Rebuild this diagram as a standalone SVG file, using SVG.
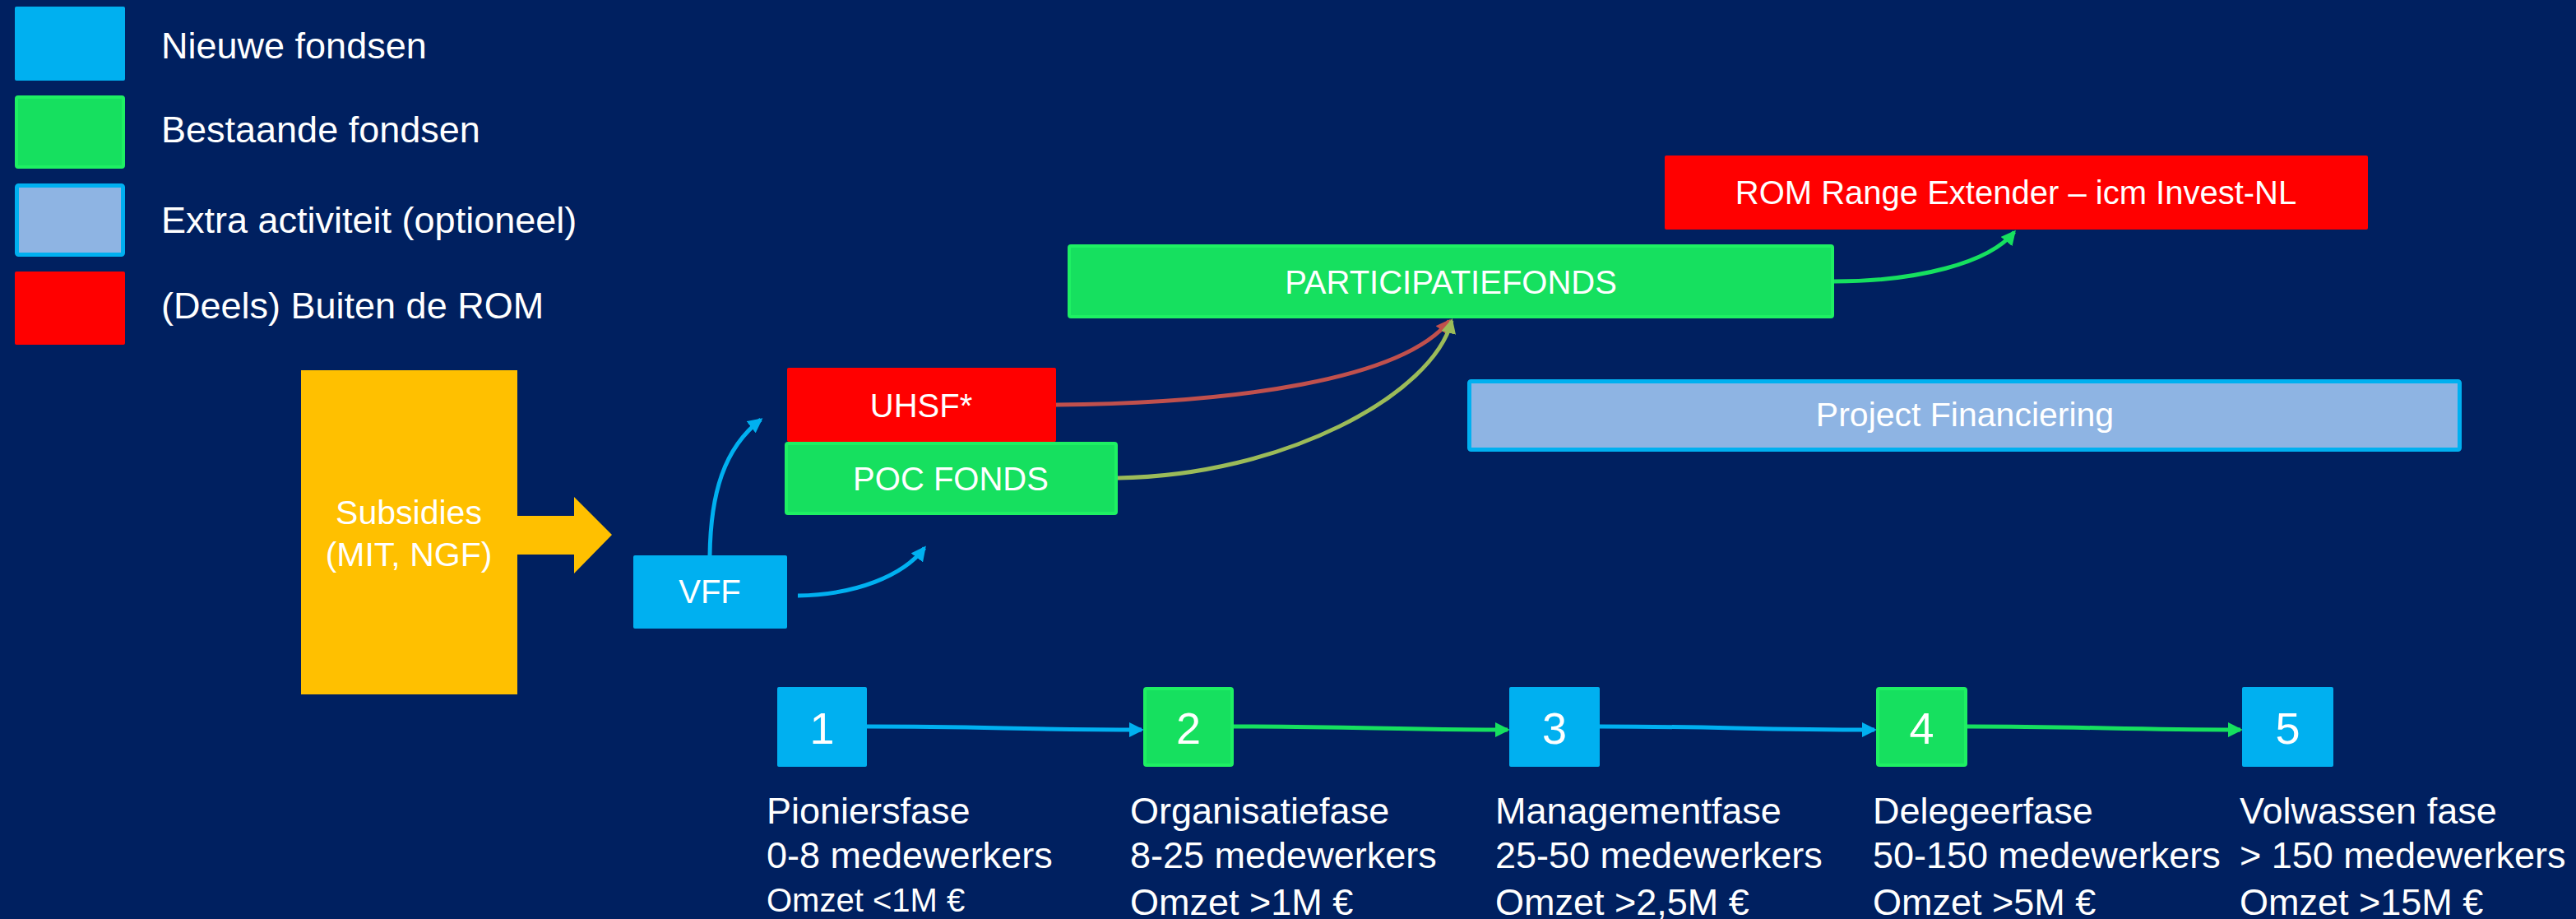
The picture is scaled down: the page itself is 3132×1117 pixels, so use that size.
<svg xmlns="http://www.w3.org/2000/svg" width="3132" height="1117" viewBox="0 0 3132 1117">
<style>
text{font-family:"Liberation Sans",Arial,sans-serif;fill:#FFFFFF;}
.lg{font-size:45px;}
.bl{font-size:40px;text-anchor:middle;}
.num{font-size:54px;text-anchor:middle;}
.st{font-size:45px;}
.blue{fill:#00B0F0;}
.green{fill:#16E05F;stroke:#1EF063;stroke-width:4;}
.red{fill:#FF0000;}
.lb{fill:#8EB4E3;stroke:#00B0F0;stroke-width:5;}
.c{fill:none;stroke-width:5;}
</style>
<defs>
<marker id="mBlue" viewBox="0 0 18 18" markerWidth="18" markerHeight="18" markerUnits="userSpaceOnUse" refX="15" refY="9" orient="auto"><path d="M0,0 L18,9 L0,18 z" fill="#00B0F0"/></marker>
<marker id="mGreen" viewBox="0 0 18 18" markerWidth="18" markerHeight="18" markerUnits="userSpaceOnUse" refX="15" refY="9" orient="auto"><path d="M0,0 L18,9 L0,18 z" fill="#16E05F"/></marker>
<marker id="mRed" viewBox="0 0 18 18" markerWidth="18" markerHeight="18" markerUnits="userSpaceOnUse" refX="15" refY="9" orient="auto"><path d="M0,0 L18,9 L0,18 z" fill="#C0504D"/></marker>
<marker id="mOlive" viewBox="0 0 18 18" markerWidth="18" markerHeight="18" markerUnits="userSpaceOnUse" refX="15" refY="9" orient="auto"><path d="M0,0 L18,9 L0,18 z" fill="#9BBB59"/></marker>
</defs>
<rect width="3132" height="1117" fill="#002060"/>

<g id="legend">
<rect x="18" y="8" width="134" height="90" rx="2" class="blue"/>
<text x="196" y="71" class="lg">Nieuwe fondsen</text>
<rect x="20" y="118" width="130" height="85" rx="2" class="green"/>
<text x="196" y="173" class="lg">Bestaande fondsen</text>
<rect x="20.5" y="225.5" width="129" height="84" rx="2" class="lb"/>
<text x="196" y="283" class="lg">Extra activiteit (optioneel)</text>
<rect x="18" y="330" width="134" height="89" rx="2" class="red"/>
<text x="196" y="387" class="lg">(Deels) Buiten de ROM</text>
</g>

<g id="connectors">
<path class="c" stroke="#00B0F0" marker-end="url(#mBlue)" d="M863,675 C864,600 880,545 925,510"/>
<path class="c" stroke="#00B0F0" marker-end="url(#mBlue)" d="M970,724 C1040,723 1098,700 1124,666"/>
<path class="c" stroke="#C0504D" marker-end="url(#mRed)" d="M1284,492 C1500,490 1705,462 1762,390"/>
<path class="c" stroke="#9BBB59" marker-end="url(#mOlive)" d="M1359,581 C1560,578 1742,480 1765,390"/>
<path class="c" stroke="#16E05F" marker-end="url(#mGreen)" d="M2230,342 C2330,342 2418,320 2449,282"/>
<path class="c" stroke="#00B0F0" marker-end="url(#mBlue)" d="M1054,883 C1200,883 1240,887 1388,887"/>
<path class="c" stroke="#16E05F" marker-end="url(#mGreen)" d="M1500,883 C1650,883 1690,887 1833,887"/>
<path class="c" stroke="#00B0F0" marker-end="url(#mBlue)" d="M1945,883 C2090,883 2130,887 2279,887"/>
<path class="c" stroke="#16E05F" marker-end="url(#mGreen)" d="M2392,883 C2540,883 2580,887 2724,887"/>
</g>

<g id="subsidies">
<rect x="366" y="450" width="263" height="394" fill="#FFC000"/>
<path d="M629,627 L698,627 L698,604 L744,650 L698,697 L698,674 L629,674 z" fill="#FFC000"/>
<text x="497" y="637" class="bl" style="font-size:41px">Subsidies</text>
<text x="497" y="688" class="bl" style="font-size:41px">(MIT, NGF)</text>
</g>

<g id="vff">
<rect x="770" y="675" width="187" height="89" rx="2" class="blue"/>
<text x="863" y="733" class="bl">VFF</text>
</g>

<g id="uhsf">
<rect x="957" y="447" width="327" height="90" rx="2" class="red"/>
<text x="1120" y="507" class="bl">UHSF*</text>
</g>

<g id="poc">
<rect x="956" y="539" width="401" height="85" rx="2" class="green"/>
<text x="1156" y="596" class="bl">POC FONDS</text>
</g>

<g id="participatiefonds">
<rect x="1300" y="299" width="928" height="86" rx="2" class="green"/>
<text x="1764" y="357" class="bl">PARTICIPATIEFONDS</text>
</g>

<g id="rom">
<rect x="2024" y="189" width="855" height="90" rx="2" class="red"/>
<text x="2451" y="248" class="bl">ROM Range Extender – icm Invest-NL</text>
</g>

<g id="project">
<rect x="1786.5" y="463.5" width="1204" height="83" rx="2" class="lb"/>
<text x="2389" y="518" class="bl" style="font-size:41px">Project Financiering</text>
</g>

<g id="stage1">
<rect x="945" y="835" width="109" height="97" rx="2" class="blue"/>
<text x="999.5" y="904" class="num">1</text>
<text x="932" y="1001" class="st">Pioniersfase</text>
<text x="932" y="1055" class="st">0-8 medewerkers</text>
<text x="932" y="1108" class="st" style="font-size:40px">Omzet &lt;1M €</text>
</g>

<g id="stage2">
<rect x="1392" y="837" width="106" height="93" rx="2" class="green"/>
<text x="1445" y="904" class="num">2</text>
<text x="1374" y="1001" class="st">Organisatiefase</text>
<text x="1374" y="1055" class="st">8-25 medewerkers</text>
<text x="1374" y="1112" class="st">Omzet &gt;1M €</text>
</g>

<g id="stage3">
<rect x="1835" y="835" width="110" height="97" rx="2" class="blue"/>
<text x="1890" y="904" class="num">3</text>
<text x="1818" y="1001" class="st">Managementfase</text>
<text x="1818" y="1055" class="st">25-50 medewerkers</text>
<text x="1818" y="1112" class="st">Omzet &gt;2,5M €</text>
</g>

<g id="stage4">
<rect x="2283" y="837" width="107" height="93" rx="2" class="green"/>
<text x="2336.5" y="904" class="num">4</text>
<text x="2277" y="1001" class="st">Delegeerfase</text>
<text x="2277" y="1055" class="st">50-150 medewerkers</text>
<text x="2277" y="1112" class="st">Omzet &gt;5M €</text>
</g>

<g id="stage5">
<rect x="2726" y="835" width="111" height="97" rx="2" class="blue"/>
<text x="2781.5" y="904" class="num">5</text>
<text x="2723" y="1001" class="st">Volwassen fase</text>
<text x="2723" y="1055" class="st">&gt; 150 medewerkers</text>
<text x="2723" y="1112" class="st">Omzet &gt;15M €</text>
</g>
</svg>
